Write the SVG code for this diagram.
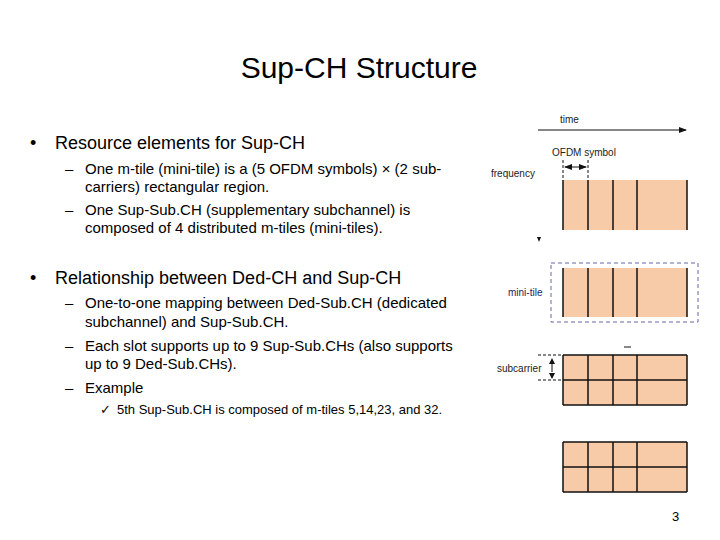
<svg xmlns="http://www.w3.org/2000/svg" width="720" height="540" viewBox="0 0 720 540">
<style>
text{font-family:"Liberation Sans",Arial,sans-serif;fill:#000}
.b{font-size:18px}.s{font-size:15px}.sm{font-size:10px;fill:#222}
.blk{fill:#F8CBA8;stroke:none}.ln{stroke:#111;stroke-width:1.5;fill:none}
.dl{stroke:#111;stroke-width:1;stroke-dasharray:3,2;fill:none}
</style>
<defs><marker id="a" markerWidth="8" markerHeight="8" refX="7" refY="4" orient="auto-start-reverse" markerUnits="userSpaceOnUse"><path d="M0,1L8,4L0,7z" fill="#111"/></marker></defs>
<rect width="720" height="540" fill="#fff"/>
<text x="359" y="78" font-size="30" text-anchor="middle">Sup-CH Structure</text>
<text x="30" y="149" class="b">•</text><text x="55" y="149" class="b">Resource elements for Sup-CH</text>
<text x="65" y="174" class="s">–</text><text x="85" y="174" class="s">One m-tile (mini-tile) is a (5 OFDM symbols) × (2 sub-</text>
<text x="85" y="192" class="s">carriers) rectangular region.</text>
<text x="65" y="215" class="s">–</text><text x="85" y="215" class="s">One Sup-Sub.CH (supplementary subchannel) is</text>
<text x="85" y="233" class="s">composed of 4 distributed m-tiles (mini-tiles).</text>
<text x="30" y="284" class="b">•</text><text x="55" y="284" class="b">Relationship between Ded-CH and Sup-CH</text>
<text x="65" y="308" class="s">–</text><text x="85" y="308" class="s">One-to-one mapping between Ded-Sub.CH (dedicated</text>
<text x="85" y="327" class="s">subchannel) and Sup-Sub.CH.</text>
<text x="65" y="351" class="s">–</text><text x="85" y="351" class="s">Each slot supports up to 9 Sup-Sub.CHs (also supports</text>
<text x="85" y="369" class="s">up to 9 Ded-Sub.CHs).</text>
<text x="65" y="393" class="s">–</text><text x="85" y="393" class="s">Example</text>
<text x="100" y="414" font-size="13">✓</text><text x="117" y="414" font-size="13">5th Sup-Sub.CH is composed of m-tiles 5,14,23, and 32.</text>
<text x="672" y="521" font-size="13">3</text>
<g id="axes">
<text x="560" y="123" class="sm">time</text>
<line x1="538" y1="130" x2="686" y2="130" stroke="#111" marker-end="url(#a)"/>
<text x="552" y="156" class="sm">OFDM symbol</text>
<text x="491" y="177" class="sm">frequency</text>
<line class="dl" x1="563" y1="160" x2="563" y2="180"/><line class="dl" x1="588" y1="160" x2="588" y2="180"/>
<line x1="565" y1="167" x2="586" y2="167" stroke="#111" marker-end="url(#a)" marker-start="url(#a)"/>
<path d="M537,237h4l-2,5z" fill="#111"/>
</g>
<g id="tile1"><rect class="blk" x="563" y="180" width="124" height="50"/>
<path class="ln" d="M563,180V230M588,180V230M613,180V230M637,180V230M687,180V230"/></g>
<g id="tile2"><rect x="551" y="263" width="147" height="59" fill="none" stroke="#66a" stroke-dasharray="4,3"/>
<rect class="blk" x="563" y="268" width="124" height="49"/>
<path class="ln" d="M563,268V317M588,268V317M613,268V317M637,268V317M687,268V317"/>
<text x="508" y="296" class="sm" style="fill:#226">mini-tile</text></g>
<g id="tile3"><rect class="blk" x="563" y="355" width="124" height="50"/>
<path class="ln" d="M563,355V405M588,355V405M613,355V405M637,355V405M687,355V405M563,355H687M563,380H687M563,405H687"/>
<path class="dl" d="M538,355H563M538,380H563"/>
<line x1="552" y1="363" x2="552" y2="372" stroke="#111"/>
<path d="M549,364h6l-3,-6zM549,373h6l-3,6z" fill="#111"/>
<text x="497" y="372" class="sm">subcarrier</text>
<line x1="624" y1="347" x2="631" y2="347" stroke="#111"/></g>
<g id="tile4"><rect class="blk" x="563" y="442" width="124" height="50"/>
<path class="ln" d="M563,442V492M588,442V492M613,442V492M637,442V492M687,442V492M563,442H687M563,467H687M563,492H687"/></g>
</svg>
